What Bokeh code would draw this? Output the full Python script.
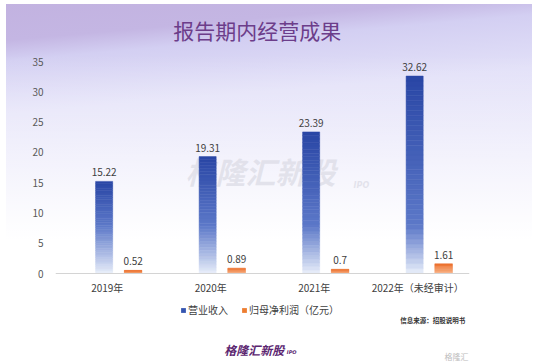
from bokeh.plotting import figure
from bokeh.models import FactorRange, Range1d, Label, Legend, LegendItem, ColumnDataSource
from bokeh.transform import dodge
from bokeh.core.properties import value
from bokeh.embed import file_html
from bokeh.resources import INLINE

# ---- data ----
categories = ["2019年", "2020年", "2021年", "2022年（未经审计）"]
revenue = [15.22, 19.31, 23.39, 32.62]
net_profit = [0.52, 0.89, 0.70, 1.61]
revenue_labels = ["15.22", "19.31", "23.39", "32.62"]
profit_labels = ["0.52", "0.89", "0.7", "1.61"]
series_names = ["营业收入", "归母净利润（亿元）"]
y_ticks = [0, 5, 10, 15, 20, 25, 30, 35]

FONT = "Noto Sans CJK SC"
BLUE = "#3555b0"
ORANGE = "#ed7d31"


def lerp(c1, c2, t):
    t = max(0.0, min(1.0, t))
    return "#%02x%02x%02x" % tuple(int(round(a + (b - a) * t)) for a, b in zip(c1, c2))


def blue_shade(h, top):
    fade = 8.0
    if h < fade:
        return lerp((236, 241, 251), (92, 120, 200), (h / fade) ** 0.9)
    return lerp((92, 120, 200), (41, 70, 165), (h - fade) / max(top - fade, 1e-6))


def orange_shade(h, top):
    return lerp((248, 182, 140), (236, 110, 42), h / top)


def segments(vals, shade, n):
    cat, bot, tp, col = [], [], [], []
    for c, v in zip(categories, vals):
        for k in range(n):
            b = v * k / n
            t = v * (k + 1) / n
            cat.append(c)
            bot.append(b)
            tp.append(t)
            col.append(shade((b + t) / 2, v))
    return ColumnDataSource(dict(cat=cat, bottom=bot, top=tp, color=col))


p = figure(
    x_range=FactorRange(*categories), y_range=Range1d(-14.7, 45.1),
    width=532, height=362, output_backend="svg", toolbar_location=None,
    min_border_left=55, min_border_right=63, min_border_top=0, min_border_bottom=0,
    border_fill_color=None, background_fill_color=None, outline_line_color=None,
)
p.styles = {
    "background": (
        "linear-gradient(#ffffff, #ffffff) 0 0 / 100% 4px no-repeat,"
        "linear-gradient(#ffffff, #ffffff) 0 0 / 6px 100% no-repeat,"
        "linear-gradient(to bottom, rgba(255,255,255,0) 0px, rgba(255,255,255,0) 55px, #ffffff 240px),"
        "linear-gradient(175deg, #c2b2e0 0%, #c4b6e3 10%, #d3cff2 15%, #e2e0f8 28%, #eceafb 100%)"
    )
}

BOFF = -0.03
OOFF = 0.25

# watermark (behind bars)
p.add_layout(Label(x=1.98, y=16.9, text="格隆汇新股", text_align="center", text_baseline="middle",
                   text_font=FONT, text_font_size="30px", text_font_style="bold italic",
                   text_color="#dcdce6", text_alpha=0.75, level="underlay"))
p.add_layout(Label(x=2.88, y=14.6, text="IPO", text_align="left", text_baseline="middle",
                   text_font="DejaVu Sans", text_font_size="8px", text_font_style="bold italic",
                   text_color="#dcdce6", text_alpha=0.75, level="underlay"))

src_b = segments(revenue, blue_shade, 40)
src_o = segments(net_profit, orange_shade, 8)
p.vbar(x=dodge("cat", BOFF, range=p.x_range), bottom="bottom", top="top", width=0.165,
       fill_color="color", line_color="color", line_width=0.5, source=src_b)
p.vbar(x=dodge("cat", OOFF, range=p.x_range), bottom="bottom", top="top", width=0.17,
       fill_color="color", line_color="color", line_width=0.5, source=src_o)

lab_b = ColumnDataSource(dict(cat=categories, val=revenue, lab=revenue_labels))
lab_o = ColumnDataSource(dict(cat=categories, val=net_profit, lab=profit_labels))
for s, off in ((lab_b, BOFF), (lab_o, OOFF)):
    p.text(x=dodge("cat", off, range=p.x_range), y="val", text="lab", source=s,
           text_align="center", text_baseline="bottom", y_offset=-5,
           text_font=value(FONT), text_font_size="10px", text_color="#404040")

# legend proxies (zero-height bars, only used for the legend swatches)
r1 = p.vbar(x=[categories[0]], top=[0], bottom=[0], width=0.01, fill_color=BLUE, line_color=None)
r2 = p.vbar(x=[categories[0]], top=[0], bottom=[0], width=0.01, fill_color=ORANGE, line_color=None)
legend = Legend(items=[LegendItem(label=series_names[0], renderers=[r1]),
                       LegendItem(label=series_names[1], renderers=[r2])],
                orientation="horizontal", location=(125, 45),
                glyph_width=6, glyph_height=6, label_standoff=2, spacing=13,
                padding=0, margin=0, border_line_color=None, background_fill_alpha=0,
                label_text_font=FONT, label_text_font_size="10px", label_text_color="#404040",
                label_height=12)
p.add_layout(legend)

# axes
p.yaxis.ticker = y_ticks
p.yaxis.axis_line_color = None
p.yaxis.major_tick_line_color = None
p.yaxis.minor_tick_line_color = None
p.yaxis.major_label_text_font = FONT
p.yaxis.major_label_text_font_size = "10px"
p.yaxis.major_label_text_color = "#595959"
p.yaxis.major_label_standoff = 6

p.xaxis.fixed_location = 0
p.xaxis.axis_line_color = "#d4d4d4"
p.xaxis.axis_line_width = 1.2
p.xaxis.major_tick_line_color = None
p.xaxis.minor_tick_line_color = None
p.xaxis.major_label_text_font = FONT
p.xaxis.major_label_text_font_size = "10px"
p.xaxis.major_label_text_color = "#404040"
p.xaxis.major_label_standoff = 0

p.xgrid.grid_line_color = None
p.ygrid.grid_line_color = None

# title and footer texts
p.add_layout(Label(x=1.95, y=40.2, text="报告期内经营成果", text_align="center", text_baseline="middle",
                   text_font=FONT, text_font_size="21px", text_color="#6c3d8a"))
p.add_layout(Label(x=3.96, y=-7.76, text="信息来源：招股说明书", text_align="right", text_baseline="middle",
                   text_font=FONT, text_font_size="6.5px", text_font_style="bold", text_color="#333333"))
p.add_layout(Label(x=2.21, y=-12.55, text="格隆汇新股", text_align="right", text_baseline="middle",
                   text_font=FONT, text_font_size="12px", text_font_style="bold italic", text_color="#5b2570"))
p.add_layout(Label(x=2.235, y=-12.9, text="IPO", text_align="left", text_baseline="middle",
                   text_font="DejaVu Sans", text_font_size="5px", text_font_style="bold italic", text_color="#5b2570"))
p.add_layout(Label(x=3.99, y=-13.7, text="格隆汇", text_align="right", text_baseline="middle",
                   text_font=FONT, text_font_size="8px", text_color="#bdbdbd"))

open("out.html", "w").write(file_html(p, INLINE))
